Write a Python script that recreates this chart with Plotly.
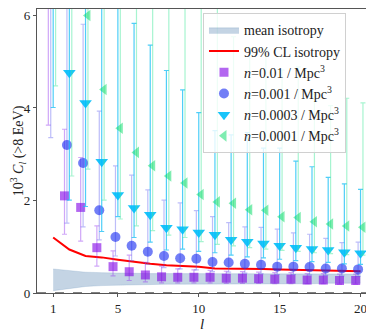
import plotly.graph_objects as go

# multipole l
ell = list(range(1, 21))

# isotropic expectation
iso_low = [0.05, 0.10, 0.14, 0.16, 0.17, 0.18, 0.18, 0.19, 0.19, 0.19,
           0.20, 0.20, 0.20, 0.20, 0.20, 0.20, 0.20, 0.21, 0.21, 0.21]
iso_high = [0.52, 0.48, 0.45, 0.44, 0.43, 0.42, 0.42, 0.42, 0.42, 0.42,
            0.42, 0.42, 0.42, 0.41, 0.41, 0.41, 0.41, 0.41, 0.41, 0.41]
iso_cl99 = [1.20, 0.94, 0.80, 0.77, 0.72, 0.67, 0.63, 0.60, 0.58, 0.57,
            0.53, 0.53, 0.53, 0.52, 0.51, 0.50, 0.50, 0.48, 0.47, 0.47]

# n = 0.01 / Mpc^3
sq_val = [7.5, 2.10, 1.85, 0.98, 0.57, 0.46, 0.39, 0.35, 0.34, 0.34,
          0.34, 0.32, 0.32, 0.31, 0.30, 0.30, 0.28, 0.28, 0.27, 0.27]
sq_lo = [3.63, 1.27, 1.12, 0.58, 0.37, 0.27, 0.24, 0.22, 0.22, 0.22,
         0.22, 0.21, 0.21, 0.21, 0.20, 0.20, 0.20, 0.20, 0.19, 0.19]
sq_hi = [12.0, 3.54, 2.93, 1.45, 0.91, 0.82, 0.66, 0.58, 0.52, 0.50,
         0.49, 0.47, 0.46, 0.45, 0.44, 0.44, 0.42, 0.42, 0.41, 0.41]

# n = 0.001 / Mpc^3
ci_val = [7.0, 3.20, 2.81, 1.79, 1.21, 1.02, 0.89, 0.80, 0.75, 0.74,
          0.67, 0.66, 0.63, 0.61, 0.57, 0.57, 0.56, 0.53, 0.53, 0.51]
ci_lo = [3.36, 1.51, 1.43, 1.15, 0.80, 0.70, 0.62, 0.55, 0.52, 0.50,
         0.46, 0.45, 0.43, 0.42, 0.40, 0.40, 0.39, 0.38, 0.37, 0.36]
ci_hi = [12.0, 9.0, 5.81, 3.93, 2.75, 2.55, 2.23, 2.01, 1.95, 1.78,
         1.65, 1.52, 1.43, 1.42, 1.38, 1.30, 1.27, 1.18, 1.09, 1.10]

# n = 0.0003 / Mpc^3
td_val = [8.0, 4.76, 4.11, 2.84, 2.12, 1.84, 1.69, 1.41, 1.38, 1.31,
          1.26, 1.15, 1.11, 1.07, 1.02, 0.98, 0.95, 0.93, 0.88, 0.86]
td_lo = [4.01, 2.01, 1.87, 1.33, 1.65, 1.20, 1.10, 0.93, 0.95, 0.90,
         0.87, 0.82, 0.78, 0.76, 0.73, 0.70, 0.68, 0.66, 0.63, 0.62]
td_hi = [14.0, 11.0, 10.0, 8.0, 7.0, 5.83, 5.36, 4.81, 4.39, 3.90,
         3.51, 3.42, 3.47, 3.13, 3.13, 2.85, 2.73, 2.50, 2.36, 2.24]

# n = 0.0001 / Mpc^3
tl_val = [9.0, 7.0, 6.00, 4.40, 3.56, 3.04, 2.75, 2.53, 2.38, 2.13,
          1.97, 1.94, 1.80, 1.79, 1.65, 1.63, 1.54, 1.49, 1.45, 1.42]
tl_lo = [4.48, 2.53, 2.68, 2.01, 1.60, 1.45, 1.35, 1.25, 1.20, 1.11,
         1.05, 1.02, 0.98, 0.95, 0.92, 0.90, 0.87, 0.85, 0.83, 0.82]
tl_hi = [16.0, 14.0, 12.0, 10.0, 9.0, 8.0, 7.5, 7.0, 6.8, 6.5,
         6.19, 5.54, 5.29, 5.25, 4.82, 4.89, 4.30, 4.05, 4.21, 4.11]

SERIF = "Liberation Serif, DejaVu Serif, serif"


def err_trace(name, offset, val, lo, hi, symbol, size, color, bar_color):
    x = [l + offset for l in ell]
    return go.Scatter(
        x=x, y=val, mode="markers", name=name,
        marker=dict(symbol=symbol, size=size, color=color, line=dict(width=0)),
        error_y=dict(type="data", symmetric=False,
                     array=[h - v for h, v in zip(hi, val)],
                     arrayminus=[v - m for v, m in zip(val, lo)],
                     color=bar_color, thickness=1.2, width=2.5),
    )


fig = go.Figure()

fig.add_trace(go.Scatter(x=ell, y=iso_low, mode="lines",
                         line=dict(color="rgba(70,120,170,0.3)", width=0.6),
                         showlegend=False, hoverinfo="skip"))
fig.add_trace(go.Scatter(x=ell, y=iso_high, mode="lines", fill="tonexty",
                         fillcolor="rgba(70,120,170,0.32)",
                         line=dict(color="rgba(70,120,170,0.3)", width=0.6),
                         name="mean isotropy"))
fig.add_trace(go.Scatter(x=ell, y=iso_cl99, mode="lines",
                         line=dict(color="#ff0000", width=2),
                         name="99% CL isotropy"))

fig.add_trace(err_trace("<i>n</i>=0.01 / Mpc<sup>3</sup>", -0.3,
                        sq_val, sq_lo, sq_hi, "square", 9,
                        "rgba(128,0,230,0.6)", "rgba(150,60,240,0.45)"))
fig.add_trace(err_trace("<i>n</i>=0.001 / Mpc<sup>3</sup>", -0.15,
                        ci_val, ci_lo, ci_hi, "circle", 10,
                        "rgba(20,40,240,0.6)", "rgba(90,90,240,0.4)"))
fig.add_trace(err_trace("<i>n</i>=0.0003 / Mpc<sup>3</sup>", 0.0,
                        td_val, td_lo, td_hi, "triangle-down", 11,
                        "rgba(0,190,250,0.9)", "rgba(20,190,245,0.75)"))
fig.add_trace(err_trace("<i>n</i>=0.0001 / Mpc<sup>3</sup>", 0.15,
                        tl_val, tl_lo, tl_hi, "triangle-left", 10,
                        "rgba(0,220,100,0.5)", "rgba(60,230,150,0.45)"))

fig.add_shape(type="line", xref="paper", yref="y", x0=0, x1=1, y0=0, y1=0,
              line=dict(color="black", width=1, dash="dash"))

# page body keeps an 8px margin, so the figure is sized to fit the window
fig.update_layout(
    width=366, height=326,
    margin=dict(l=29, r=7, t=1, b=41),
    plot_bgcolor="white", paper_bgcolor="white",
    font=dict(family=SERIF, size=13, color="#222"),
    showlegend=True,
    legend=dict(x=0.503, y=0.985, xanchor="left", yanchor="top",
                traceorder="normal",
                bgcolor="rgba(255,255,255,0.8)", bordercolor="#d0d0d0",
                borderwidth=1, font=dict(family=SERIF, size=14, color="#222"),
                tracegroupgap=0),
    xaxis=dict(range=[0, 20.4], tickvals=[1, 5, 10, 15, 20],
               showgrid=False, zeroline=False, showline=True, mirror=True,
               linecolor="#555", linewidth=1.2, ticks="outside", ticklen=3,
               tickcolor="#555", ticklabeloverflow="allow",
               title=dict(text="<i>l</i>", standoff=2,
                          font=dict(family=SERIF, size=15))),
    yaxis=dict(range=[0, 6.14], tickvals=[0, 2, 4, 6],
               showgrid=False, zeroline=False, showline=True, mirror=True,
               linecolor="#555", linewidth=1.2, ticks="outside", ticklen=3,
               tickcolor="#555", ticklabeloverflow="allow",
               title=dict(text="10<sup>3</sup> <i>C<sub>l</sub></i> (>8 EeV)",
                          standoff=6, font=dict(family=SERIF, size=14))),
)

fig.write_html("out.html")
